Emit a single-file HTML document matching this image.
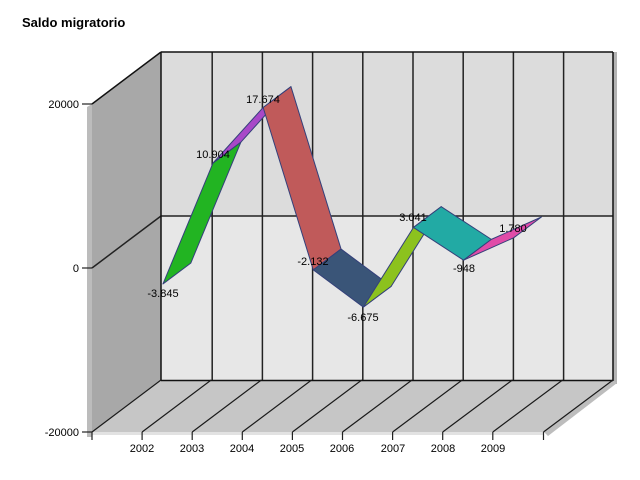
<!DOCTYPE html>
<html><head><meta charset="utf-8"><style>
html,body{margin:0;padding:0;background:#fff;}
svg{display:block;}
text{font-family:"Liberation Sans",Arial,sans-serif;fill:#000;}
</style></head><body>
<svg width="640" height="480" viewBox="0 0 640 480" xmlns="http://www.w3.org/2000/svg">
<rect x="0" y="0" width="640" height="480" fill="#fff"/>
<text x="22" y="27" font-size="13" font-weight="bold">Saldo migratorio</text>

<!-- side wall -->
<polygon points="87,107 92,104 92,437 87,437" fill="#bcbcbc"/>
<polygon points="92,104 161,52 161,380 92,432" fill="#a8a8a8"/>
<!-- back wall -->
<rect x="161" y="52" width="452" height="164" fill="#dcdcdc"/>
<rect x="161" y="216" width="452" height="164" fill="#e7e7e7"/>
<rect x="613" y="52" width="4" height="332" fill="#b4b4b4"/>
<!-- floor -->
<polygon points="92,432 161,380 613,380 544,432" fill="#c6c6c6"/>
<polygon points="613,380 617,383 548,436 544,432" fill="#bdbdbd"/>
<rect x="92" y="432" width="452" height="3" fill="#e2e2e2"/>

<!-- back wall grid -->
<g stroke="#222" stroke-width="1.5" fill="none">
<line x1="212.2" y1="52" x2="212.2" y2="380"/>
<line x1="262.4" y1="52" x2="262.4" y2="380"/>
<line x1="312.6" y1="52" x2="312.6" y2="380"/>
<line x1="362.8" y1="52" x2="362.8" y2="380"/>
<line x1="413" y1="52" x2="413" y2="380"/>
<line x1="463.2" y1="52" x2="463.2" y2="380"/>
<line x1="513.4" y1="52" x2="513.4" y2="380"/>
<line x1="563.6" y1="52" x2="563.6" y2="380"/>
<line x1="161" y1="216" x2="613" y2="216"/>
<line x1="92" y1="268" x2="161" y2="216"/>
</g>
<g stroke="#111" stroke-width="1.5" fill="none">
<line x1="161" y1="52" x2="613" y2="52"/>
<line x1="613" y1="52" x2="613" y2="381"/>
<line x1="161" y1="52" x2="161" y2="380"/>
<line x1="92" y1="104" x2="161" y2="52"/>
<line x1="161" y1="380.5" x2="613" y2="380.5"/>
</g>
<!-- floor lines -->
<g stroke="#1a1a1a" stroke-width="1.2" fill="none">
<line x1="161" y1="380" x2="92" y2="432"/>
<line x1="211.2" y1="380" x2="142.1" y2="432"/>
<line x1="261.4" y1="380" x2="192.2" y2="432"/>
<line x1="311.6" y1="380" x2="242.3" y2="432"/>
<line x1="361.8" y1="380" x2="292.4" y2="432"/>
<line x1="412" y1="380" x2="342.5" y2="432"/>
<line x1="462.2" y1="380" x2="392.6" y2="432"/>
<line x1="512.4" y1="380" x2="442.7" y2="432"/>
<line x1="562.6" y1="380" x2="492.8" y2="432"/>
<line x1="613" y1="380" x2="543.5" y2="432"/>
</g>
<!-- ticks -->
<g stroke="#222" stroke-width="1.2" fill="none">
<line x1="82" y1="104" x2="92" y2="104"/>
<line x1="82" y1="268" x2="92" y2="268"/>
<line x1="82" y1="432" x2="92" y2="432"/>
<line x1="92" y1="432" x2="92" y2="440"/>
<line x1="142.1" y1="432" x2="142.1" y2="440"/>
<line x1="192.2" y1="432" x2="192.2" y2="440"/>
<line x1="242.3" y1="432" x2="242.3" y2="440"/>
<line x1="292.4" y1="432" x2="292.4" y2="440"/>
<line x1="342.5" y1="432" x2="342.5" y2="440"/>
<line x1="392.6" y1="432" x2="392.6" y2="440"/>
<line x1="442.7" y1="432" x2="442.7" y2="440"/>
<line x1="492.8" y1="432" x2="492.8" y2="440"/>
<line x1="543.5" y1="432" x2="543.5" y2="440"/>
</g>

<!-- axis labels -->
<g font-size="11" text-anchor="end">
<text x="79" y="108">20000</text>
<text x="79" y="272">0</text>
<text x="79" y="436">-20000</text>
</g>
<g font-size="11" text-anchor="middle">
<text x="142" y="452">2002</text>
<text x="192" y="452">2003</text>
<text x="242" y="452">2004</text>
<text x="292" y="452">2005</text>
<text x="342" y="452">2006</text>
<text x="393" y="452">2007</text>
<text x="443" y="452">2008</text>
<text x="493" y="452">2009</text>
</g>

<!-- ribbons -->
<g stroke="#34407a" stroke-width="1" stroke-linejoin="round">
<polygon fill="#22b422" points="162.95,283.93 213.05,162.99 240.85,142.19 190.75,263.13"/>
<polygon fill="#a848c8" points="213.05,162.99 263.15,107.47 290.95,86.67 240.85,142.19"/>
<polygon fill="#c05a5a" points="263.15,107.47 313.25,269.88 341.05,249.08 290.95,86.67"/>
<polygon fill="#3a5578" points="313.25,269.88 363.35,307.14 391.15,286.34 341.05,249.08"/>
<polygon fill="#8cc21e" points="363.35,307.14 413.45,227.46 441.25,206.66 391.15,286.34"/>
<polygon fill="#22aaa4" points="413.45,227.46 463.55,260.17 491.35,239.37 441.25,206.66"/>
<polygon fill="#e04ca8" points="463.55,260.17 513.65,237.80 541.45,217.00 491.35,239.37"/>
</g>

<!-- data labels -->
<g font-size="11" text-anchor="middle">
<text x="163" y="297">-3.845</text>
<text x="213" y="158">10.904</text>
<text x="263" y="103">17.674</text>
<text x="313" y="265">-2.132</text>
<text x="363" y="321">-6.675</text>
<text x="413" y="221">3.041</text>
<text x="464" y="272">-948</text>
<text x="513" y="232">1.780</text>
</g>
</svg>
</body></html>
